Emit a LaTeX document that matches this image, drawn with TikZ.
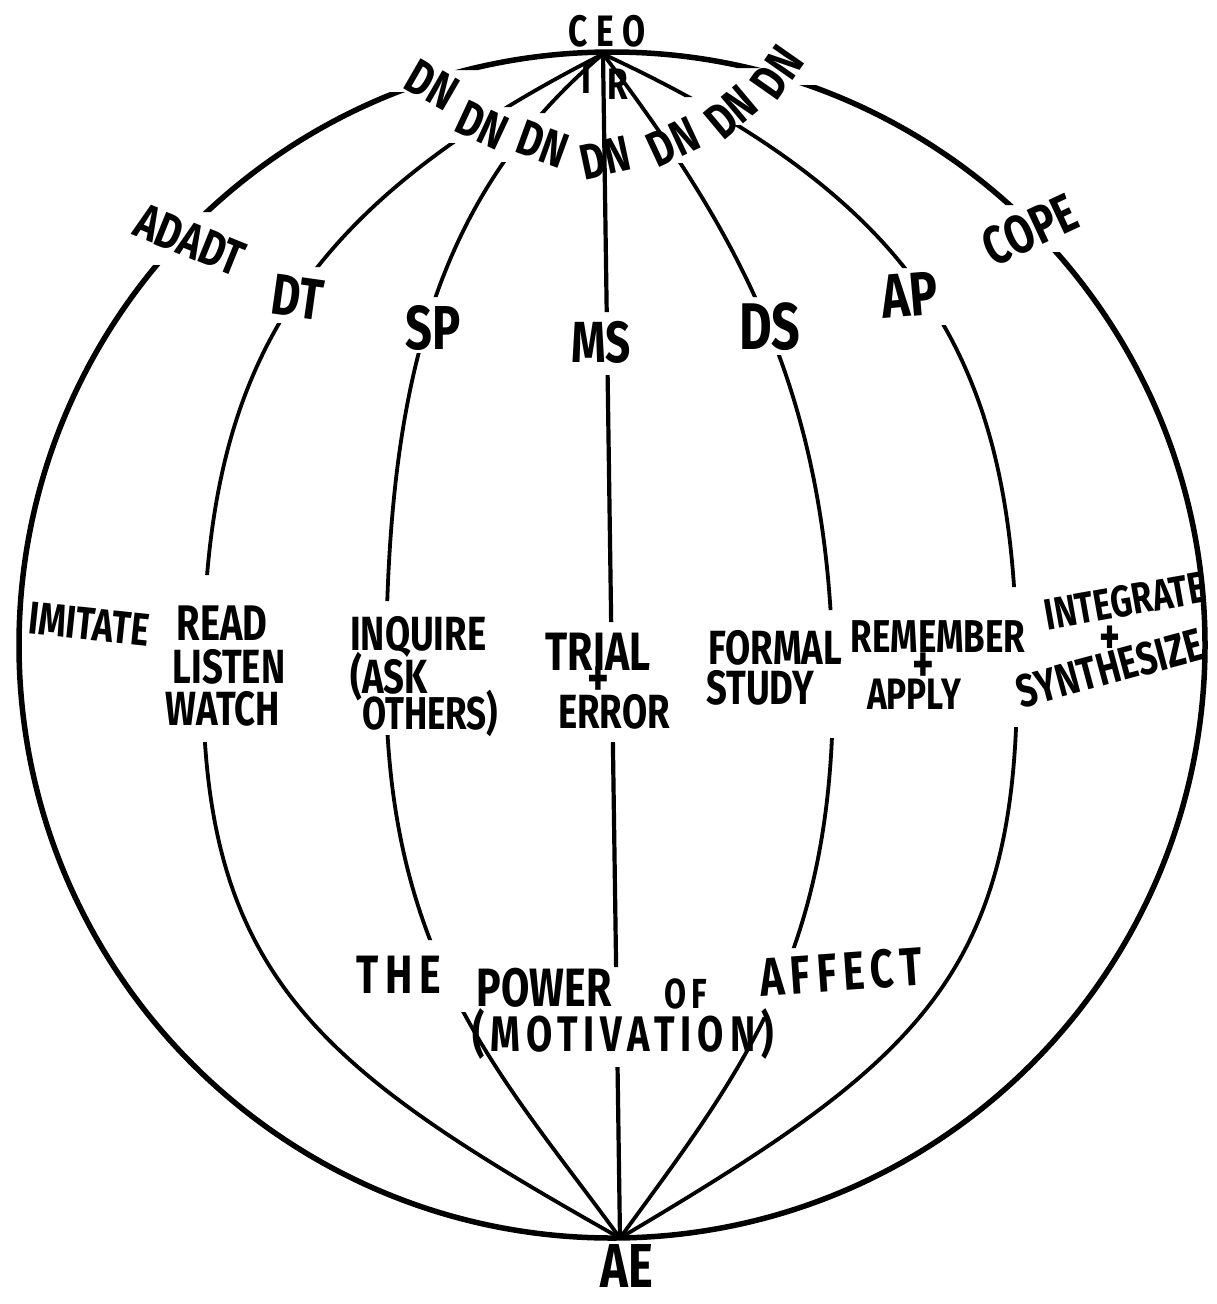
\documentclass[tikz,border=0pt]{standalone}
\usepackage{fontspec}
\newfontfamily\hf[FakeStretch=0.76]{Fira Sans}
\newfontfamily\hfw[FakeStretch=0.76,LetterSpace=12]{Fira Sans}
\newcommand{\hw}[1]{\hf\bfseries\fontsize{#1}{#1}\selectfont}
\newcommand{\hww}[1]{\hfw\bfseries\fontsize{#1}{#1}\selectfont}
\begin{document}
\begin{tikzpicture}[x=1pt,y=-1pt,
  globe/.style={line width=5.5pt},
  mer/.style={line width=3.8pt, line cap=round},
  lbl/.style={inner sep=0pt, text=black}]
\useasboundingbox (0,0) rectangle (1217,1304);
\fill[white] (0,0) rectangle (1217,1304);

\coordinate (T) at (603,54);
\coordinate (B) at (620,1238);
\coordinate (O) at (612,645);
\coordinate (eDT) at (203,680);
\coordinate (eSP) at (386,680);
\coordinate (eDS) at (833,690);
\coordinate (eAP) at (1017,680);

% outer circle, left half (gaps for DN and ADADT)
\begin{scope}
\clip (0,0) rectangle (612,70) (0,92) rectangle (612,212) (0,265) rectangle (612,1304);
\draw[globe] (O) ellipse [x radius=593, y radius=593];
\end{scope}
% outer circle, right half (gaps for DN and COPE)
\begin{scope}
\clip (612,0) rectangle (1217,68) (612,85) rectangle (1217,205) (612,252) rectangle (1217,1304);
\draw[globe] (O) ellipse [x radius=593, y radius=593];
\end{scope}

% DT meridian
\begin{scope}
\clip (0,0) rectangle (1217,107) (0,143) rectangle (1217,267) (0,323) rectangle (1217,575) (0,742) rectangle (1217,1304);
\draw[mer] (T) .. controls (286,215) and (203,380) .. (eDT) .. controls (203,980) and (324,1071) .. (B);
\end{scope}
% SP meridian
\begin{scope}
\clip (0,0) rectangle (1217,113) (0,162) rectangle (1217,297) (0,353) rectangle (1217,601) (0,735) rectangle (1217,940) (0,1012) rectangle (1217,1304);
\draw[mer] (T) .. controls (430,200) and (386,395) .. (eSP) .. controls (386,960) and (502,1076) .. (B);
\end{scope}
% MS meridian
\begin{scope}
\clip (0,0) rectangle (1217,312) (0,375) rectangle (1217,622) (0,742) rectangle (1217,967) (0,1067) rectangle (1217,1304);
\draw[mer, line width=4.2pt] (T) -- (B);
\end{scope}
% DS meridian
\begin{scope}
\clip (0,0) rectangle (1217,132) (0,163) rectangle (1217,297) (0,355) rectangle (1217,610) (0,738) rectangle (1217,948) (0,1017) rectangle (1217,1304);
\draw[mer] (T) .. controls (742,238) and (833,400) .. (eDS) .. controls (833,960) and (738,1076) .. (B);
\end{scope}
% AP meridian
\begin{scope}
\clip (0,0) rectangle (1217,97) (0,125) rectangle (1217,268) (0,325) rectangle (1217,587) (0,727) rectangle (1217,1304);
\draw[mer] (T) .. controls (940,210) and (1017,380) .. (eAP) .. controls (1017,980) and (912,1065) .. (B);
\end{scope}

% top labels
\node[lbl, font=\hw{44}] (ceo) at (607,31) {C\hspace{9pt}E\hspace{9pt}O};
\node[lbl, font=\hw{44}] (irI) at (586,78) {I};
\node[lbl, font=\hw{44}] (irR) at (618,84) {R};
\node[lbl, font=\hw{50}, rotate=-30] (dn1) at (432,85) {DN};
\node[lbl, font=\hw{50}, rotate=-25] (dn2) at (482,125) {DN};
\node[lbl, font=\hw{50}, rotate=-20] (dn3) at (543,144) {DN};
\node[lbl, font=\hw{50}, rotate=12] (dn4) at (605,158) {DN};
\node[lbl, font=\hw{50}, rotate=25] (dn5) at (673,142) {DN};
\node[lbl, font=\hw{50}, rotate=40] (dn6) at (731,112) {DN};
\node[lbl, font=\hw{50}, rotate=55] (dn7) at (777,72) {DN};

% second row
\node[lbl, font=\hw{50}, rotate=-22] (adadt) at (190,240) {ADADT};
\node[lbl, font=\hw{58}, rotate=-8] (dt) at (298,297) {DT};
\node[lbl, font=\hw{62}] (sp) at (433,328) {SP};
\node[lbl, font=\hw{58}] (ms) at (601,342) {MS};
\node[lbl, font=\hw{66}] (ds) at (770,327) {DS};
\node[lbl, font=\hw{62}, rotate=5] (ap) at (910,295) {AP};
\node[lbl, font=\hw{54}, rotate=25] (cope) at (1030,230) {COPE};

% equator labels
\node[lbl, font=\hw{46}, rotate=-6] (imitate) at (89,624) {IMITATE};
\node[lbl, font=\hw{50}] (read) at (222,623) {READ};
\node[lbl, font=\hw{48}] (listen) at (229,667) {LISTEN};
\node[lbl, font=\hw{48}] (watch) at (223,709) {WATCH};
\node[lbl, font=\hw{48}, anchor=west] (inquire) at (350,637) {INQUIRE};
\node[lbl, font=\hw{48}, anchor=west] (ask) at (350,677) {(ASK};
\node[lbl, font=\hw{46}, anchor=west] (others) at (362,713) {OTHERS)};
\node[lbl, font=\hw{54}] (trial) at (598,652) {TRIAL};
\node[lbl, font=\hw{54}] (amp1) at (598,682) {+};
\node[lbl, font=\hw{48}] (error) at (614,712) {ERROR};
\node[lbl, font=\hw{48}, anchor=west] (formal) at (708,648) {FORMAL};
\node[lbl, font=\hw{48}, anchor=west] (study) at (706,688) {STUDY};
\node[lbl, font=\hw{46}] (remember) at (938,637) {REMEMBER};
\node[lbl, font=\hw{54}] (amp2) at (923,668) {+};
\node[lbl, font=\hw{44}] (apply) at (914,694) {APPLY};
\node[lbl, font=\hw{44}, rotate=10] (integrate) at (1125,601) {INTEGRATE};
\node[lbl, font=\hw{52}] (amp3) at (1110,640) {+};
\node[lbl, font=\hw{46}, rotate=15] (synth) at (1110,668) {SYNTHESIZE};

% bottom labels
\node[lbl, font=\hww{54}] (the) at (399,975) {THE};
\node[lbl, font=\hw{54}] (power) at (544,988) {POWER};
\node[lbl, font=\hww{42}] (of) at (686,994) {OF};
\node[lbl, font=\hww{54}, rotate=4] (affect) at (841,972) {AFFECT};
\node[lbl, font=\hww{50}] (motiv) at (623,1034) {(MOTIVATION)};
\node[lbl, font=\hw{62}] (ae) at (627,1266) {AE};
\end{tikzpicture}
\end{document}
